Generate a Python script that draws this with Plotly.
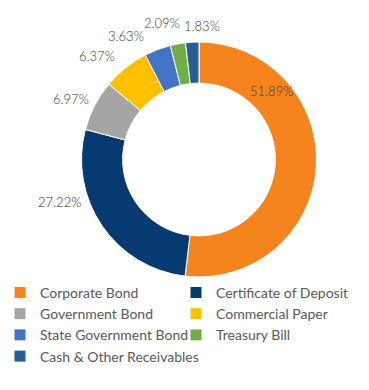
import plotly.graph_objects as go

categories = ["Corporate Bond", "Certificate of Deposit", "Government Bond",
              "Commercial Paper", "State Government Bond", "Treasury Bill",
              "Cash & Other Receivables"]
values = [51.89, 27.22, 6.97, 6.37, 3.63, 2.09, 1.83]
colors = ["#F5841F", "#063A70", "#A5A5A5", "#FFC000", "#4472C4", "#70AD47", "#255E91"]

# label placement (pixels in the 369x390 canvas) and colours
label_px = [(271, 91), (59, 202), (71, 99), (97, 56), (126, 36), (162, 23), (202, 26)]
label_colors = ["#3A3A3A", "#1F1F1F", "#3A3A3A", "#3A3A3A", "#3A3A3A", "#3A3A3A", "#3A3A3A"]

W, H = 369, 390
cx, cy, r = 199, 159.5, 117.5

fig = go.Figure(go.Pie(
    labels=categories,
    values=values,
    hole=0.65,
    sort=False,
    direction="clockwise",
    rotation=0,
    marker=dict(colors=colors, line=dict(color="white", width=1)),
    textinfo="none",
    hoverinfo="label+percent",
    domain=dict(x=[(cx - r) / W, (cx + r) / W], y=[1 - (cy + r) / H, 1 - (cy - r) / H]),
))

for v, (px, py), c in zip(values, label_px, label_colors):
    fig.add_annotation(x=px / W, y=1 - py / H, xref="paper", yref="paper",
                       xanchor="center", yanchor="middle",
                       text=f"{v:.2f}%", showarrow=False,
                       font=dict(family="Lato", size=13, color=c, weight=300))

fig.update_layout(
    width=W, height=H,
    margin=dict(l=0, r=0, t=0, b=0),
    paper_bgcolor="white",
    font=dict(family="Lato", size=14, color="#595959"),
    showlegend=True,
    legend=dict(orientation="h", x=0.0, y=0.29, xanchor="left", yanchor="top",
                entrywidth=131, entrywidthmode="pixels", traceorder="normal",
                font=dict(family="Lato", size=14, color="#595959")),
)

fig.write_html("out.html", config={"displayModeBar": False},
               post_script="document.body.style.margin='0';")
